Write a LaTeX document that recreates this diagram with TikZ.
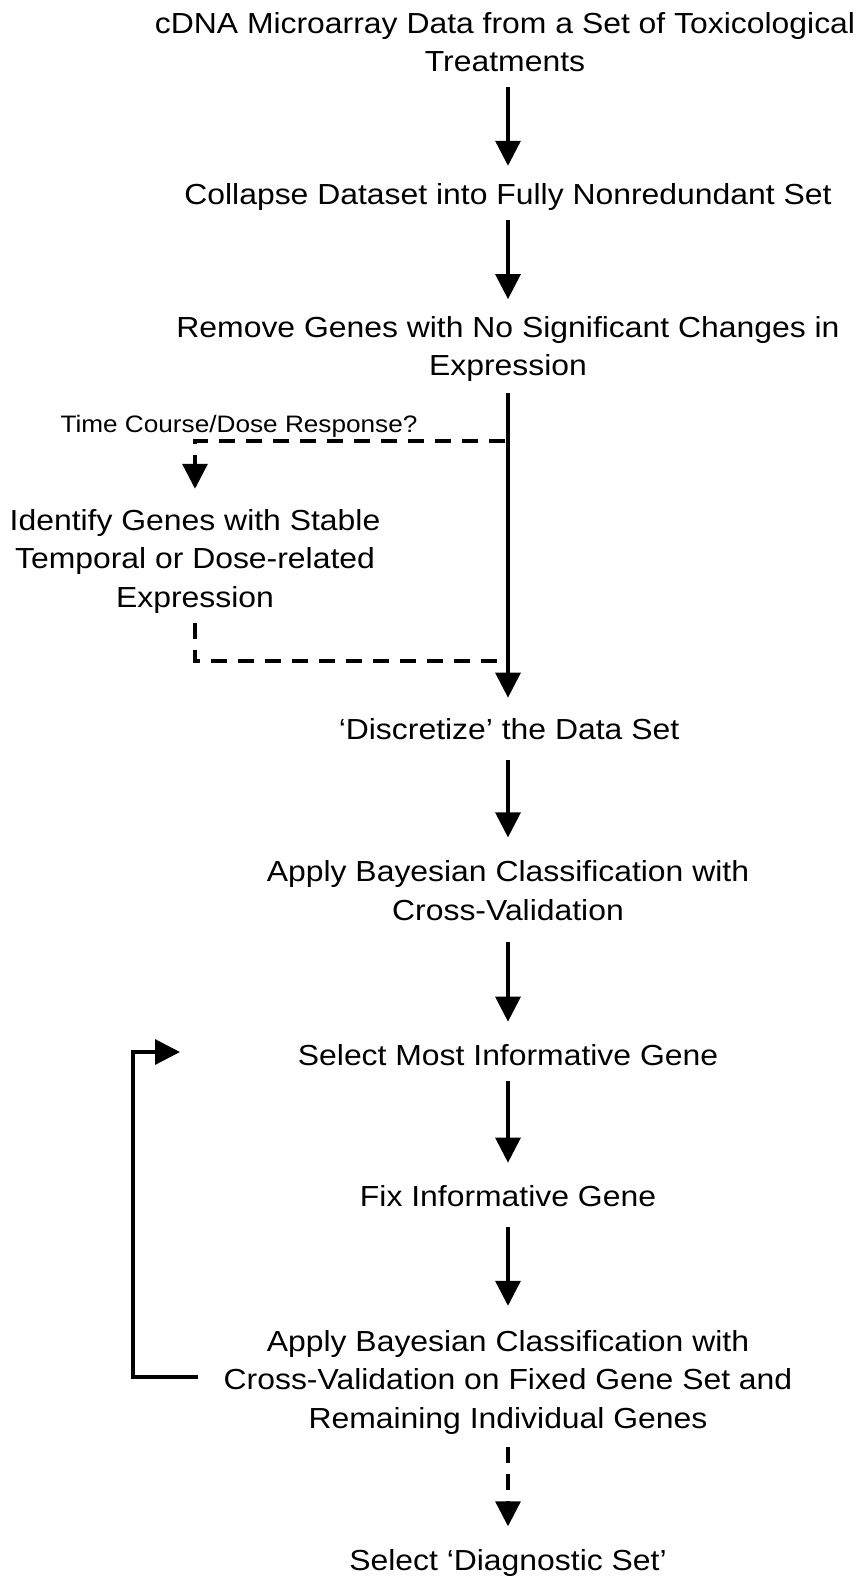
\documentclass[tikz,border=0pt]{standalone}
\usepackage{fontspec}
\setmainfont[FakeStretch=1.1]{Liberation Sans}
\usetikzlibrary{arrows.meta}
\begin{document}
\begin{tikzpicture}[x=1pt,y=-1pt,
  txt/.style={font=\fontsize{29}{38.5}\selectfont, align=center, inner sep=0pt},
  lbl/.style={font=\fontsize{23.8}{28}\selectfont, inner sep=0pt},
  headed/.style={-{Triangle[length=25pt,width=25pt]}},
  conn/.style={line width=3.2pt},
  dline/.style={line width=3.2pt, dash pattern=on 16pt off 11pt},
]
\fill[white] (0,0) rectangle (864,1577);
\useasboundingbox (0,0) rectangle (864,1577);

% text nodes
\node[txt] (t1) at (505,42.2) {cDNA Microarray Data from a Set of Toxicological\\Treatments};
\node[txt] (t2) at (508,196.5) {Collapse Dataset into Fully Nonredundant Set};
\node[txt] (t3) at (508,349.1) {Remove Genes with No Significant Changes in\\Expression};
\node[lbl] (lab) at (239,426) {Time Course/Dose Response?};
\node[txt] (t4) at (195,561) {Identify Genes with Stable\\Temporal or Dose-related\\Expression};
\node[txt] (t5) at (509,729.5) {‘Discretize’ the Data Set};
\node[txt] (t6) at (508,890.5) {Apply Bayesian Classification with\\Cross-Validation};
\node[txt] (t7) at (508,1055.5) {Select Most Informative Gene};
\node[txt] (t8) at (508,1196.5) {Fix Informative Gene};
\node[txt] (t9) at (508,1382) {Apply Bayesian Classification with\\Cross-Validation on Fixed Gene Set and\\Remaining Individual Genes};
\node[txt] (t10) at (508,1563) {Select ‘Diagnostic Set’};

% helper coordinates
\coordinate (ax) at (508,0);
\coordinate (br1) at (505,441);
\coordinate (br2) at (497,661);
\coordinate (ls) at (198,1377);
\coordinate (le) at (180,1052);

% main column connectors
\draw[conn,headed,shorten <=15pt,shorten >=17pt] (t1.south -| ax) -- (t2.north -| ax);
\draw[conn,headed,shorten <=10pt,shorten >=17pt] (t2.south -| ax) -- (t3.north -| ax);
\draw[conn,headed,shorten <=11pt,shorten >=21pt] (t3.south -| ax) -- (t5.north -| ax);
\draw[conn,headed,shorten <=20pt,shorten >=23pt] (t5.south -| ax) -- (t6.north -| ax);
\draw[conn,headed,shorten <=21pt,shorten >=23pt] (t6.south -| ax) -- (t7.north -| ax);
\draw[conn,headed,shorten <=15pt,shorten >=23pt] (t7.south -| ax) -- (t8.north -| ax);
\draw[conn,headed,shorten <=20pt,shorten >=24pt] (t8.south -| ax) -- (t9.north -| ax);
\draw[dline,headed,shorten <=13pt,shorten >=23pt] (t9.south -| ax) -- (t10.north -| ax);

% dashed side branch
\draw[dline,headed,shorten >=20pt] (br1) -| (t4.north);
\draw[dline,shorten <=10pt] (t4.south) |- (br2);

% feedback loop
\draw[conn,headed] (ls) -- ++(-65,0) |- (le);
\end{tikzpicture}
\end{document}
